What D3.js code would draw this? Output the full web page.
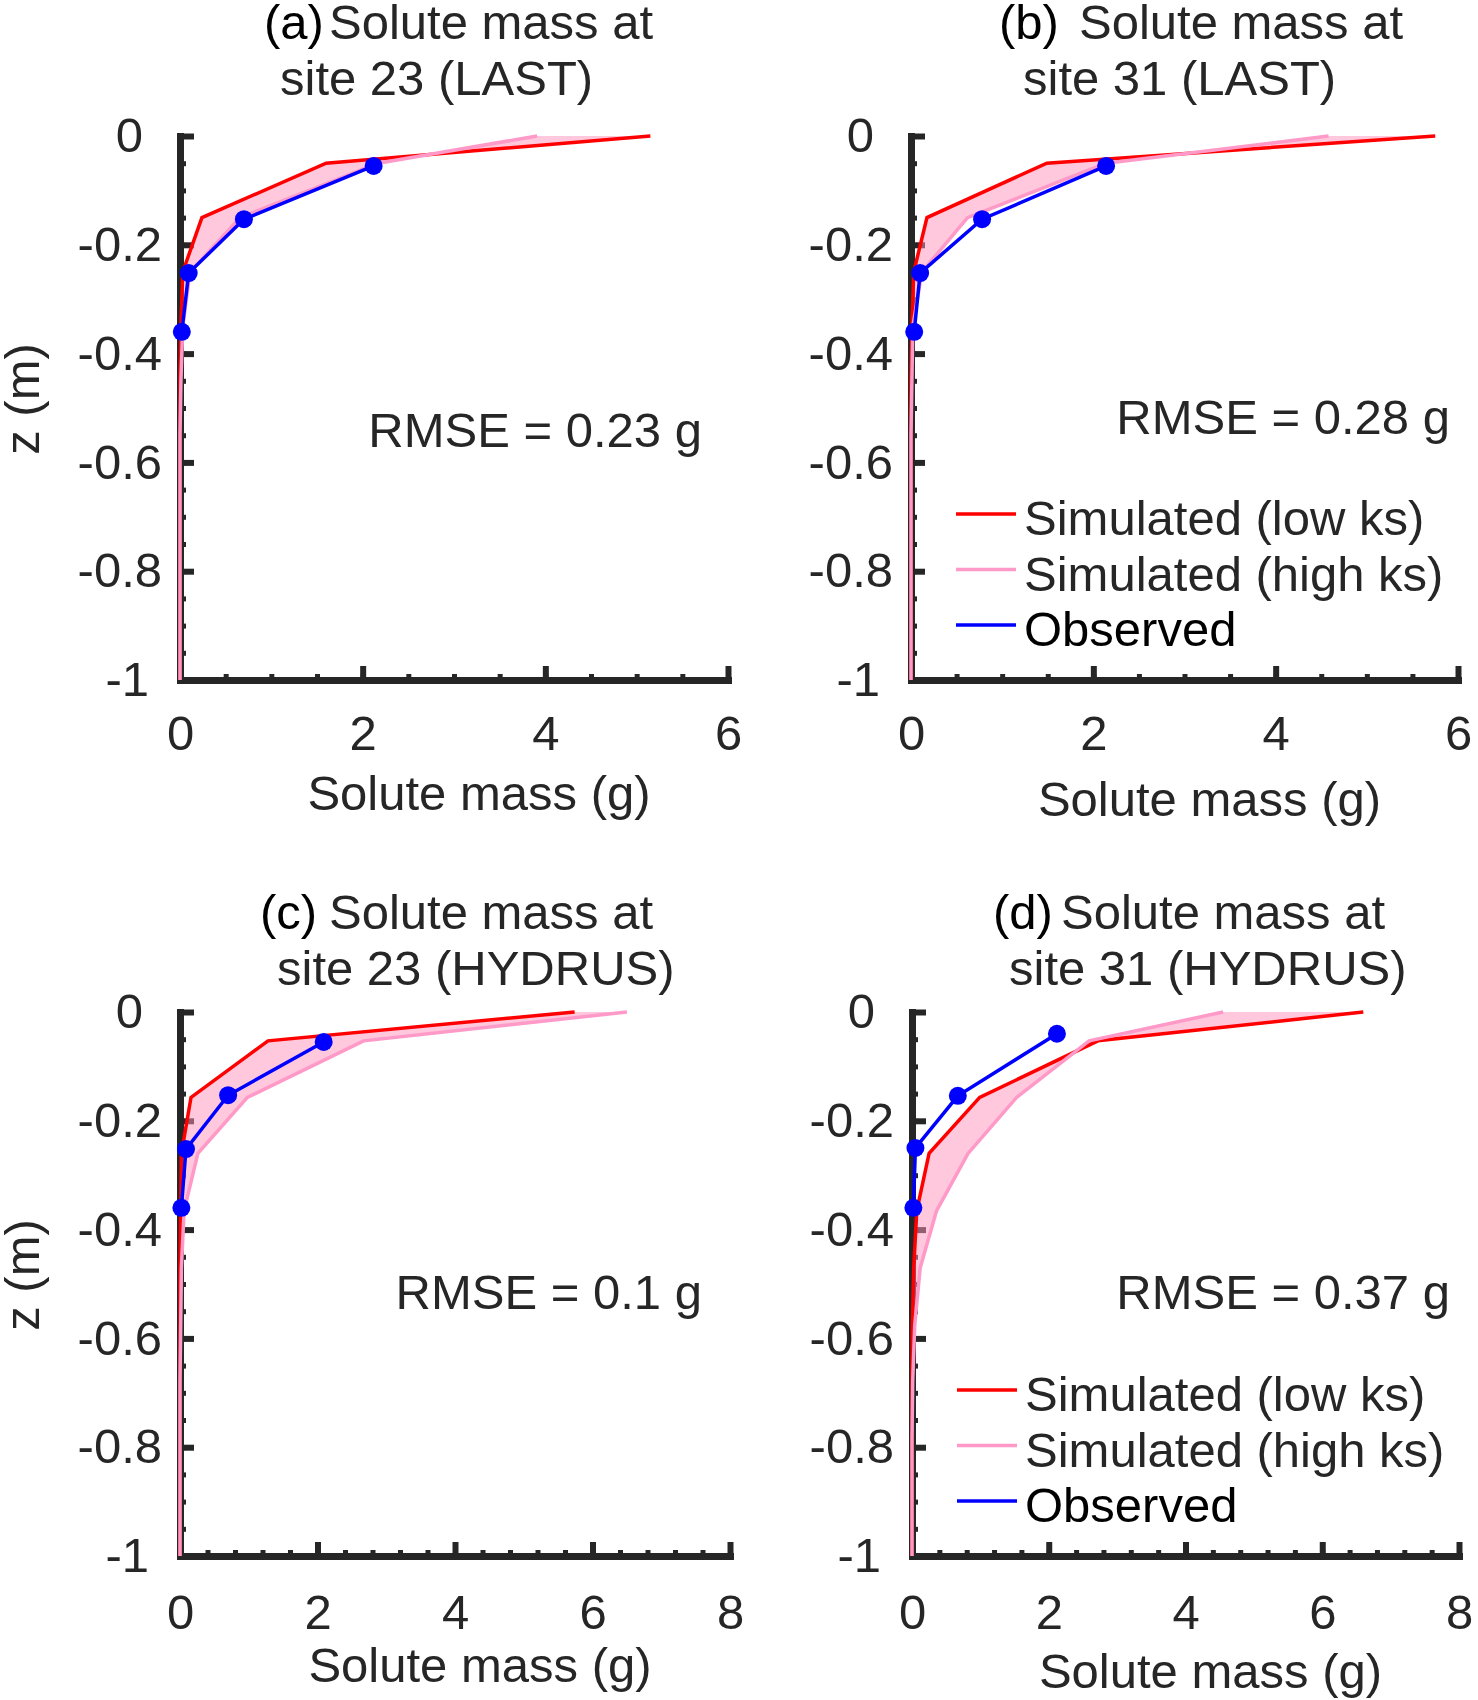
<!DOCTYPE html>
<html>
<head>
<meta charset="utf-8">
<script src="https://cdn.jsdelivr.net/npm/d3@7"></script>
<style>
  body { margin: 0; background: #fff; }
  svg text { font-family: "Liberation Sans", Arial, sans-serif; font-size: 49px; fill: #262626; }
  .axis path, .axis line { stroke: #262626; }
  .axis text { fill: #262626; font-size: 49px; font-family: "Liberation Sans", Arial, sans-serif; }
</style>
</head>
<body>
<svg id="chart" width="1478" height="1700"></svg>
<script>
// depth nodes of the two models (m)
const depthLAST = [0, -0.05, -0.15, -0.25, -0.35, -0.45, -0.55, -0.65, -0.75, -0.85, -0.95, -1];
const depthHYDRUS = [0, -0.053, -0.157, -0.26, -0.365, -0.47, -0.575, -0.68, -0.785, -0.89, -0.95, -1];

// simulated solute mass (g), low ks / high ks
const lowA  = [5.15, 1.60, 0.24, 0.03, 0.01, 0, 0, 0, 0, 0, 0, 0];
const highA = [3.91, 2.17, 0.66, 0.11, 0.03, 0.01, 0, 0, 0, 0, 0, 0];
const lowB  = [5.75, 1.49, 0.175, 0.03, 0.01, 0, 0, 0, 0, 0, 0, 0];
const highB = [4.58, 2.14, 0.62, 0.12, 0.02, 0.01, 0, 0, 0, 0, 0, 0];
const lowC  = [5.74, 1.28, 0.16, 0.02, 0.01, 0, 0, 0, 0, 0, 0, 0];
const highC = [6.50, 2.67, 0.98, 0.26, 0.06, 0.02, 0.01, 0, 0, 0, 0, 0];
const lowD  = [6.60, 2.72, 0.99, 0.25, 0.07, 0.025, 0.005, 0, 0, 0, 0, 0];
const highD = [4.55, 2.59, 1.53, 0.82, 0.36, 0.12, 0.04, 0.01, 0, 0, 0, 0];

// observed
const obsDepth  = [-0.055, -0.153, -0.252, -0.36];
const obsDepthD = [-0.04, -0.154, -0.25, -0.36];
const obsA = [2.12, 0.70, 0.095, 0.02];
const obsB = [2.14, 0.78, 0.10, 0.035];
const obsC = [2.09, 0.70, 0.087, 0.02];
const obsD = [2.12, 0.67, 0.05, 0.02];

const panelLetters = ['(a)', '(b)', '(c)', '(d)'];
const titleLine1 = 'Solute mass at';
const titleLine2 = ['site 23 (LAST)', 'site 31 (LAST)', 'site 23 (HYDRUS)', 'site 31 (HYDRUS)'];
const rmseLabels = ['RMSE = 0.23 g', 'RMSE = 0.28 g', 'RMSE = 0.1 g', 'RMSE = 0.37 g'];
const seriesNames = ['Simulated (low ks)', 'Simulated (high ks)', 'Observed'];
const xLabel = 'Solute mass (g)';
const yLabel = 'z (m)';
const yTicks = [-1, -0.8, -0.6, -0.4, -0.2, 0];

const RED = '#ff0000', PINK = '#ff99c8', BLUE = '#0000ff', AXIS = '#262626';

const panels = [
  {i: 0, depth: depthLAST, low: lowA, high: highA, od: obsDepth, obs: obsA, xMax: 6, xMinor: 0.5,
   left: 180, right: 728, top: 136, bottom: 680, xPad: 35,
   letterX: 264, line1X: 329, line2X: 280, titleY: 39,
   rmseX: 702, rmseY: 447, xlabY: 810, ylab: true, legend: false},
  {i: 1, depth: depthLAST, low: lowB, high: highB, od: obsDepth, obs: obsB, xMax: 6, xMinor: 0.5,
   left: 911, right: 1458, top: 136, bottom: 680, xPad: 35,
   letterX: 999, line1X: 1079, line2X: 1023, titleY: 39,
   rmseX: 1450, rmseY: 434, xlabY: 816, ylab: false, legend: true, legY: 514},
  {i: 2, depth: depthHYDRUS, low: lowC, high: highC, od: obsDepth, obs: obsC, xMax: 8, xMinor: 0.4,
   left: 180, right: 730, top: 1012, bottom: 1556, xPad: 38,
   letterX: 260, line1X: 329, line2X: 277, titleY: 929,
   rmseX: 702, rmseY: 1309, xlabY: 1682, ylab: true, legend: false},
  {i: 3, depth: depthHYDRUS, low: lowD, high: highD, od: obsDepthD, obs: obsD, xMax: 8, xMinor: 0.4,
   left: 912, right: 1459, top: 1012, bottom: 1556, xPad: 38,
   letterX: 993, line1X: 1061, line2X: 1009, titleY: 929,
   rmseX: 1450, rmseY: 1309, xlabY: 1688, ylab: false, legend: true, legY: 1390},
];

const svg = d3.select('#chart');

function styleAxis(sel, width) {
  sel.attr('class', 'axis');
  sel.select('.domain').attr('stroke-width', 7).attr('stroke-linecap', 'square');
  sel.selectAll('.tick line').attr('stroke-width', width);
}

function drawPanel(p) {
  const x = d3.scaleLinear().domain([0, p.xMax]).range([p.left, p.right]);
  const y = d3.scaleLinear().domain([-1, 0]).range([p.bottom, p.top]);
  const g = svg.append('g');

  // minor ticks
  const yMinor = d3.range(0, 21).map(k => -1 + k * 0.05);
  const xMinor = d3.range(0, Math.round(p.xMax / p.xMinor) + 1).map(k => k * p.xMinor);
  g.append('g')
    .attr('transform', `translate(${p.left},0)`)
    .call(d3.axisRight(y).tickValues(yMinor).tickSize(6).tickFormat(''))
    .call(s => { styleAxis(s, 5); s.select('.domain').remove(); });
  g.append('g')
    .attr('transform', `translate(0,${p.bottom})`)
    .call(d3.axisTop(x).tickValues(xMinor).tickSize(6).tickFormat(''))
    .call(s => { styleAxis(s, 5); s.select('.domain').remove(); });

  // major ticks + labels
  g.append('g')
    .attr('transform', `translate(${p.left},0)`)
    .call(d3.axisLeft(y).tickValues(yTicks).tickSizeInner(-14).tickSizeOuter(0).tickPadding(18)
      .tickFormat(d => String(d)))
    .call(s => {
      styleAxis(s, 6);
      // the short labels sit a little further from the axis in the original
      s.selectAll('.tick text').attr('dx', d => d === 0 ? -19 : (d === -1 ? -13 : 0));
    });
  g.append('g')
    .attr('transform', `translate(0,${p.bottom})`)
    .call(d3.axisBottom(x).ticks(p.xMax / 2).tickSizeInner(-14).tickSizeOuter(0).tickPadding(p.xPad)
      .tickFormat(d3.format('d')))
    .call(s => styleAxis(s, 6));

  // band between the two simulations
  const low = p.depth.map((z, k) => ({z, v: p.low[k]}));
  const high = p.depth.map((z, k) => ({z, v: p.high[k]}));
  const poly = low.concat(high.slice().reverse());
  g.append('path')
    .attr('d', d3.line().x(d => x(d.v)).y(d => y(d.z))(poly) + 'Z')
    .attr('fill', 'rgb(255,145,185)')
    .attr('fill-opacity', 0.5)
    .attr('stroke', 'none');

  const line = d3.line().x(d => x(d.v)).y(d => y(d.z));
  g.append('path').datum(low).attr('d', line)
    .attr('fill', 'none').attr('stroke', RED).attr('stroke-width', 3.5);
  g.append('path').datum(high).attr('d', line)
    .attr('fill', 'none').attr('stroke', PINK).attr('stroke-width', 3.5);

  const obs = p.od.map((z, k) => ({z, v: p.obs[k]}));
  g.append('path').datum(obs).attr('d', line)
    .attr('fill', 'none').attr('stroke', BLUE).attr('stroke-width', 3.5);
  g.selectAll('circle.obs').data(obs).enter().append('circle')
    .attr('class', 'obs')
    .attr('cx', d => x(d.v)).attr('cy', d => y(d.z)).attr('r', 9)
    .attr('fill', BLUE);

  // titles
  g.append('text').attr('x', p.letterX).attr('y', p.titleY).style('fill', '#000').text(panelLetters[p.i]);
  g.append('text').attr('x', p.line1X).attr('y', p.titleY).text(titleLine1);
  g.append('text').attr('x', p.line2X).attr('y', p.titleY + 56).text(titleLine2[p.i]);

  g.append('text').attr('x', p.rmseX).attr('y', p.rmseY).attr('text-anchor', 'end').text(rmseLabels[p.i]);

  g.append('text').attr('x', (p.left + p.right) / 2 + 25).attr('y', p.xlabY)
    .attr('text-anchor', 'middle').text(xLabel);

  if (p.ylab) {
    g.append('text')
      .attr('transform', `translate(39,${(p.top + p.bottom) / 2 - 9}) rotate(-90)`)
      .attr('text-anchor', 'middle').text(yLabel);
  }

  if (p.legend) {
    const colors = [RED, PINK, BLUE];
    seriesNames.forEach((name, k) => {
      const ly = p.legY + k * 55.5;
      g.append('line').attr('x1', p.left + 45).attr('x2', p.left + 105)
        .attr('y1', ly).attr('y2', ly)
        .attr('stroke', colors[k]).attr('stroke-width', 3.5);
      g.append('text').attr('x', p.left + 113).attr('y', ly + 21)
        .style('fill', k === 2 ? '#000' : AXIS).text(name);
    });
  }
}

panels.forEach(drawPanel);
</script>
</body>
</html>
